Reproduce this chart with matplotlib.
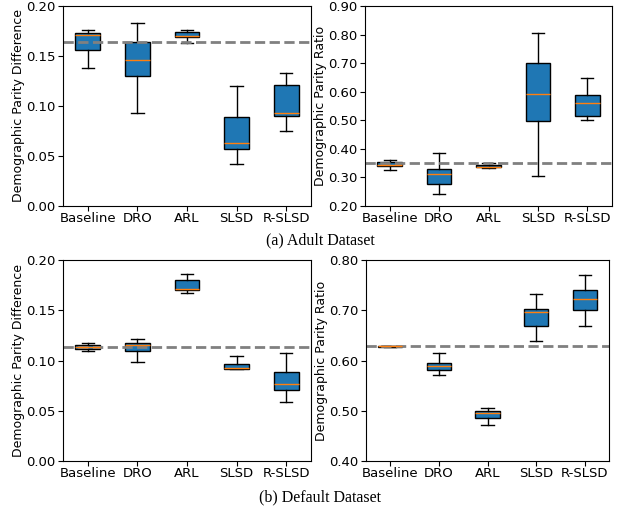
import matplotlib
matplotlib.use("Agg")
import matplotlib.pyplot as plt

methods = ["Baseline", "DRO", "ARL", "SLSD", "R-SLSD"]

# box stats: [whislo, q1, med, q3, whishi] per method
adult_dpd = [[0.1377, 0.156, 0.1707, 0.173, 0.176],
             [0.0927, 0.1303, 0.1463, 0.164, 0.1827],
             [0.1627, 0.1687, 0.170, 0.1743, 0.176],
             [0.0423, 0.0567, 0.0627, 0.0887, 0.120],
             [0.0753, 0.090, 0.0933, 0.1213, 0.1327]]
adult_dpr = [[0.3248, 0.340, 0.3447, 0.3528, 0.361],
             [0.2408, 0.277, 0.3108, 0.3295, 0.3867],
             [0.3318, 0.3353, 0.3377, 0.3435, 0.3505],
             [0.3038, 0.4963, 0.5908, 0.6993, 0.8055],
             [0.4998, 0.5138, 0.5617, 0.5897, 0.6492]]
default_dpd = [[0.1093, 0.1116, 0.1136, 0.1156, 0.1173],
               [0.0983, 0.1096, 0.1153, 0.1176, 0.1209],
               [0.1674, 0.1698, 0.1714, 0.180, 0.186],
               [0.0914, 0.0914, 0.0927, 0.097, 0.104],
               [0.0585, 0.0711, 0.0767, 0.089, 0.1076]]
default_dpr = [[0.6277, 0.6277, 0.628, 0.6283, 0.6283],
               [0.5721, 0.5807, 0.5894, 0.5947, 0.6153],
               [0.4711, 0.4864, 0.4963, 0.4997, 0.5063],
               [0.6379, 0.6678, 0.6957, 0.703, 0.7316],
               [0.6678, 0.701, 0.7216, 0.7402, 0.7701]]

# dashed reference lines (baseline level)
ref_lines = [0.1643, 0.3493, 0.1133, 0.6279]
ylims = [(0.0, 0.20), (0.20, 0.90), (0.0, 0.20), (0.40, 0.80)]
yticks = [[0.0, 0.05, 0.10, 0.15, 0.20],
          [0.2, 0.3, 0.4, 0.5, 0.6, 0.7, 0.8, 0.9],
          [0.0, 0.05, 0.10, 0.15, 0.20],
          [0.4, 0.5, 0.6, 0.7, 0.8]]
ylabels = ["Demographic Parity Difference", "Demographic Parity Ratio",
           "Demographic Parity Difference", "Demographic Parity Ratio"]
captions = ["(a) Adult Dataset", "(b) Default Dataset"]

fig = plt.figure(figsize=(6.23, 5.12), dpi=100)
rects = [[63/623, 1-206/512, 248/623, 200/512],
         [365/623, 1-206/512, 247/623, 200/512],
         [63/623, 1-461/512, 248/623, 201/512],
         [366/623, 1-461/512, 243/623, 201/512]]

all_data = [adult_dpd, adult_dpr, default_dpd, default_dpr]
for i in range(4):
    ax = fig.add_axes(rects[i])
    stats = []
    for name, s in zip(methods, all_data[i]):
        stats.append(dict(label=name, whislo=s[0], q1=s[1], med=s[2],
                          q3=s[3], whishi=s[4], fliers=[]))
    ax.bxp(stats, patch_artist=True, showfliers=False,
           boxprops=dict(facecolor="#1f77b4", edgecolor="black", linewidth=1.0),
           medianprops=dict(color="#ff7f0e", linewidth=1.0),
           whiskerprops=dict(color="black", linewidth=1.0),
           capprops=dict(color="black", linewidth=1.0))
    ax.axhline(ref_lines[i], color="gray", linestyle="--", linewidth=2)
    ax.set_ylim(ylims[i])
    ax.set_yticks(yticks[i])
    ax.set_yticklabels(["%.2f" % t for t in yticks[i]])
    ax.set_ylabel(ylabels[i], fontsize=9, labelpad=0.5)
    ax.tick_params(axis="both", labelsize=9.5, pad=2)
    ax.tick_params(axis="x", pad=1)

fig.text(320/623, 1-240/512, captions[0], ha="center", va="center",
         family="Liberation Serif", fontsize=11.5)
fig.text(320/623, 1-497/512, captions[1], ha="center", va="center",
         family="Liberation Serif", fontsize=11.5)

fig.savefig("out.png", dpi=100)
